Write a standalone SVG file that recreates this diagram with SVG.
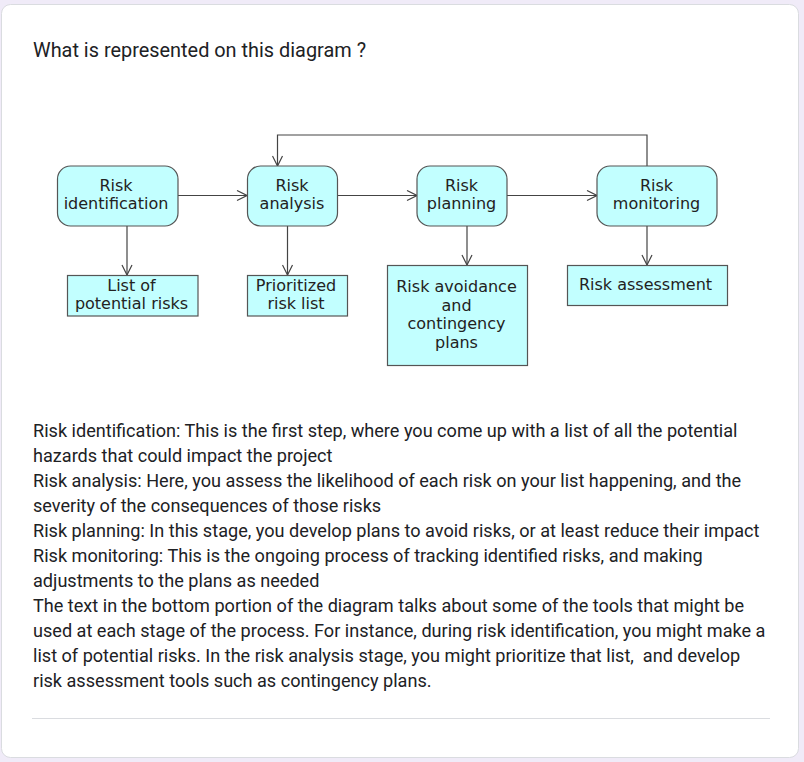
<svg xmlns="http://www.w3.org/2000/svg" width="804" height="762" viewBox="0 0 804 762">
<defs>
<style>
.bg{fill:#f0ebf8}
.card{fill:#fff;stroke:#dadce0;stroke-width:1}
.node{fill:#c2ffff;stroke:#555;stroke-width:1.2}
.nt{font-family:"DejaVu Sans",sans-serif;font-size:16px;fill:#222;text-anchor:middle}
.conn{fill:none;stroke:#444;stroke-width:1.2}
.body{font-family:Roboto,"Liberation Sans",sans-serif;font-size:18.1px;fill:#202124}
.title{font-family:Roboto,"Liberation Sans",sans-serif;font-size:19.9px;fill:#202124}
</style>
<marker id="arr" markerUnits="userSpaceOnUse" markerWidth="12" markerHeight="12" refX="11" refY="6" orient="auto" viewBox="0 0 12 12">
<path d="M1,1 L11,6 L1,11" fill="none" stroke="#444" stroke-width="1.2"/>
</marker>
</defs>
<rect class="bg" x="0" y="0" width="804" height="762"/>
<rect class="card" x="1.5" y="4.5" width="797" height="753" rx="9"/>
<text class="title" x="33" y="57">What is represented on this diagram ?</text>

<g id="connectors">
<line class="conn" x1="178" y1="195.5" x2="247" y2="195.5" marker-end="url(#arr)"/>
<line class="conn" x1="337" y1="195.5" x2="417" y2="195.5" marker-end="url(#arr)"/>
<line class="conn" x1="507" y1="195.5" x2="597" y2="195.5" marker-end="url(#arr)"/>
<polyline class="conn" points="647,166 647,135 277.5,135 277.5,166" marker-end="url(#arr)"/>
<line class="conn" x1="127" y1="226" x2="127" y2="275" marker-end="url(#arr)"/>
<line class="conn" x1="287.5" y1="226" x2="287.5" y2="275" marker-end="url(#arr)"/>
<line class="conn" x1="467" y1="226" x2="467" y2="265" marker-end="url(#arr)"/>
<line class="conn" x1="647" y1="226" x2="647" y2="265" marker-end="url(#arr)"/>
</g>

<g id="risk-identification">
<rect class="node" x="57.5" y="166" width="120.5" height="60" rx="13"/>
<text class="nt" x="116" y="191">Risk</text>
<text class="nt" x="116" y="209">identification</text>
</g>
<g id="risk-analysis">
<rect class="node" x="247.5" y="166" width="90" height="60" rx="13"/>
<text class="nt" x="292" y="191">Risk</text>
<text class="nt" x="292" y="209">analysis</text>
</g>
<g id="risk-planning">
<rect class="node" x="417" y="166" width="90" height="60" rx="13"/>
<text class="nt" x="461.5" y="191">Risk</text>
<text class="nt" x="461.5" y="209">planning</text>
</g>
<g id="risk-monitoring">
<rect class="node" x="597" y="166" width="120" height="60" rx="13"/>
<text class="nt" x="656.5" y="191">Risk</text>
<text class="nt" x="656.5" y="209">monitoring</text>
</g>
<g id="list-of-potential-risks">
<rect class="node" x="67.5" y="275.5" width="130.5" height="40.5"/>
<text class="nt" x="131.5" y="291">List of</text>
<text class="nt" x="131.5" y="309">potential risks</text>
</g>
<g id="prioritized-risk-list">
<rect class="node" x="247.5" y="275.5" width="100" height="40.5"/>
<text class="nt" x="296" y="291">Prioritized</text>
<text class="nt" x="296" y="309">risk list</text>
</g>
<g id="risk-avoidance">
<rect class="node" x="387.5" y="265.5" width="140" height="100"/>
<text class="nt" x="456.5" y="292">Risk avoidance</text>
<text class="nt" x="456.5" y="310.5">and</text>
<text class="nt" x="456.5" y="329">contingency</text>
<text class="nt" x="456.5" y="347.5">plans</text>
</g>
<g id="risk-assessment">
<rect class="node" x="567.5" y="265.5" width="160" height="40"/>
<text class="nt" x="645.5" y="290">Risk assessment</text>
</g>

<g id="description">
<text class="body" x="33" y="437">Risk identification: This is the first step, where you come up with a list of all the potential</text>
<text class="body" x="33" y="462">hazards that could impact the project</text>
<text class="body" x="33" y="487">Risk analysis: Here, you assess the likelihood of each risk on your list happening, and the</text>
<text class="body" x="33" y="512">severity of the consequences of those risks</text>
<text class="body" x="33" y="537">Risk planning: In this stage, you develop plans to avoid risks, or at least reduce their impact</text>
<text class="body" x="33" y="562">Risk monitoring: This is the ongoing process of tracking identified risks, and making</text>
<text class="body" x="33" y="587">adjustments to the plans as needed</text>
<text class="body" x="33" y="612">The text in the bottom portion of the diagram talks about some of the tools that might be</text>
<text class="body" x="33" y="637">used at each stage of the process. For instance, during risk identification, you might make a</text>
<text class="body" x="33" y="662" xml:space="preserve">list of potential risks. In the risk analysis stage, you might prioritize that list,  and develop</text>
<text class="body" x="33" y="687">risk assessment tools such as contingency plans.</text>
</g>
<line x1="32" y1="718.5" x2="770" y2="718.5" stroke="#dadce0" stroke-width="1"/>
</svg>
